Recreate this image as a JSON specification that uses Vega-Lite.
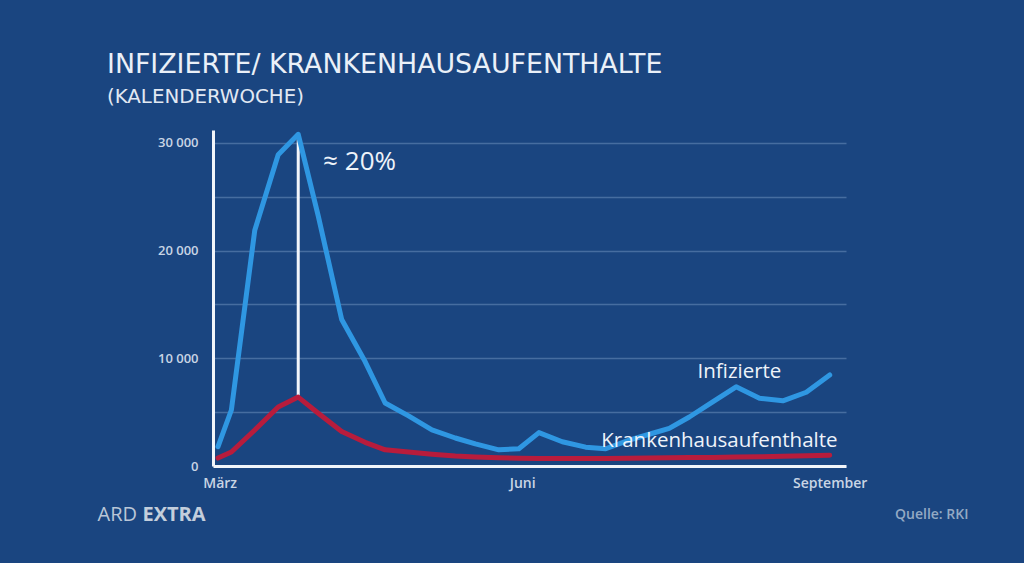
{
  "$schema": "https://vega.github.io/schema/vega-lite/v6.json",
  "autosize": {"type": "none"},
  "width": 633,
  "height": 336,
  "padding": {"left": 213, "top": 130, "right": 178, "bottom": 97},
  "background": "#1a4580",
  "title": {
    "text": "INFIZIERTE/ KRANKENHAUSAUFENTHALTE",
    "subtitle": "(KALENDERWOCHE)",
    "anchor": "start",
    "frame": "group",
    "dx": -106,
    "offset": 23,
    "font": "DejaVu Sans",
    "fontSize": 26.8,
    "fontWeight": "normal",
    "color": "#eaf0f8",
    "subtitleFont": "DejaVu Sans",
    "subtitleFontSize": 19.8,
    "subtitleColor": "#e2e9f3",
    "subtitlePadding": 8
  },
  "data": {
    "values": [
      {"woche": "2020-03-02", "Infizierte": 1800, "Krankenhausaufenthalte": 740},
      {"woche": "2020-03-06", "Infizierte": 5200, "Krankenhausaufenthalte": 1300},
      {"woche": "2020-03-13", "Infizierte": 21900, "Krankenhausaufenthalte": 3340},
      {"woche": "2020-03-20", "Infizierte": 28900, "Krankenhausaufenthalte": 5480},
      {"woche": "2020-03-26", "Infizierte": 30800, "Krankenhausaufenthalte": 6400},
      {"woche": "2020-04-01", "Infizierte": 23200, "Krankenhausaufenthalte": 4900},
      {"woche": "2020-04-08", "Infizierte": 13600, "Krankenhausaufenthalte": 3200},
      {"woche": "2020-04-15", "Infizierte": 9700, "Krankenhausaufenthalte": 2200},
      {"woche": "2020-04-21", "Infizierte": 5850, "Krankenhausaufenthalte": 1500},
      {"woche": "2020-04-28", "Infizierte": 4650, "Krankenhausaufenthalte": 1300},
      {"woche": "2020-05-05", "Infizierte": 3350, "Krankenhausaufenthalte": 1100},
      {"woche": "2020-05-12", "Infizierte": 2600, "Krankenhausaufenthalte": 930},
      {"woche": "2020-05-18", "Infizierte": 2050, "Krankenhausaufenthalte": 840},
      {"woche": "2020-05-25", "Infizierte": 1500, "Krankenhausaufenthalte": 760},
      {"woche": "2020-05-31", "Infizierte": 1600, "Krankenhausaufenthalte": 720},
      {"woche": "2020-06-06", "Infizierte": 3100, "Krankenhausaufenthalte": 700},
      {"woche": "2020-06-13", "Infizierte": 2250, "Krankenhausaufenthalte": 690},
      {"woche": "2020-06-20", "Infizierte": 1750, "Krankenhausaufenthalte": 690},
      {"woche": "2020-06-26", "Infizierte": 1600, "Krankenhausaufenthalte": 700},
      {"woche": "2020-07-03", "Infizierte": 2400, "Krankenhausaufenthalte": 720},
      {"woche": "2020-07-09", "Infizierte": 2950, "Krankenhausaufenthalte": 740},
      {"woche": "2020-07-15", "Infizierte": 3500, "Krankenhausaufenthalte": 760},
      {"woche": "2020-07-21", "Infizierte": 4550, "Krankenhausaufenthalte": 780},
      {"woche": "2020-07-28", "Infizierte": 5950, "Krankenhausaufenthalte": 800},
      {"woche": "2020-08-04", "Infizierte": 7350, "Krankenhausaufenthalte": 830},
      {"woche": "2020-08-11", "Infizierte": 6300, "Krankenhausaufenthalte": 860},
      {"woche": "2020-08-18", "Infizierte": 6050, "Krankenhausaufenthalte": 900},
      {"woche": "2020-08-25", "Infizierte": 6850, "Krankenhausaufenthalte": 950},
      {"woche": "2020-09-01", "Infizierte": 8450, "Krankenhausaufenthalte": 1000}
    ]
  },
  "encoding": {
    "x": {
      "field": "woche",
      "type": "temporal",
      "scale": {
        "type": "utc",
        "domain": [
          {"year": 2020, "month": 2, "date": 29, "hours": 12, "utc": true},
          {"year": 2020, "month": 9, "date": 5, "hours": 21, "utc": true}
        ]
      },
      "axis": {
        "title": "Quelle: RKI",
        "titleFont": "Open Sans",
        "titleFontSize": 14,
        "titleFontWeight": 600,
        "titleColor": "#93a9c4",
        "titleAnchor": "start",
        "titleAlign": "right",
        "titleBaseline": "middle",
        "titleX": 755,
        "titleY": 48,
        "values": [
          {"year": 2020, "month": 3, "date": 2, "hours": 12, "utc": true},
          {"year": 2020, "month": 6, "date": 1, "utc": true},
          {"year": 2020, "month": 9, "date": 1, "utc": true}
        ],
        "labelExpr": "utcmonth(datum.value) == 2 ? 'März' : utcmonth(datum.value) == 5 ? 'Juni' : 'September'",
        "labelFont": "Open Sans",
        "labelFontSize": 14,
        "labelFontWeight": 600,
        "labelColor": "#c9d5e5",
        "labelPadding": 10,
        "labelFlush": false,
        "ticks": false,
        "grid": false,
        "domainColor": "#f2f5fa",
        "domainWidth": 3
      }
    }
  },
  "layer": [
    {
      "transform": [
        {"joinaggregate": [{"op": "max", "field": "Infizierte", "as": "spitze"}]},
        {"filter": "datum.Infizierte == datum.spitze"}
      ],
      "mark": {"type": "rule", "color": "#f2f5fa", "strokeWidth": 3},
      "encoding": {
        "y": {"field": "Infizierte", "type": "quantitative", "axis": null},
        "y2": {"field": "Krankenhausaufenthalte"}
      }
    },
    {
      "mark": {"type": "line", "color": "#2f97e2", "strokeWidth": 5, "strokeJoin": "round", "strokeCap": "round"},
      "encoding": {
        "y": {
          "field": "Infizierte",
          "type": "quantitative",
          "scale": {"domain": [0, 31200], "nice": false},
          "axis": {
            "orient": "left",
            "title": "ARD",
            "titleFont": "Open Sans",
            "titleFontSize": 20,
            "titleFontWeight": 500,
            "titleColor": "#b9c6d7",
            "titleAngle": 0,
            "titleAlign": "left",
            "titleBaseline": "middle",
            "titleX": -116,
            "titleY": 384,
            "values": [0, 5000, 10000, 15000, 20000, 25000, 30000],
            "labelExpr": "datum.value % 10000 == 0 ? replace(format(datum.value, ',d'), ',', ' ') : ''",
            "labelFont": "Open Sans",
            "labelFontSize": 13,
            "labelFontWeight": 600,
            "labelColor": "#c9d5e5",
            "labelPadding": 15,
            "ticks": false,
            "grid": true,
            "gridColor": "#7d9dc8",
            "gridOpacity": 0.45,
            "gridWidth": 1.5,
            "domainColor": "#f2f5fa",
            "domainWidth": 3
          }
        }
      }
    },
    {
      "mark": {"type": "line", "color": "#b81c3c", "strokeWidth": 5, "strokeJoin": "round", "strokeCap": "round"},
      "encoding": {
        "y": {"field": "Krankenhausaufenthalte", "type": "quantitative", "axis": null}
      }
    },
    {
      "transform": [
        {"joinaggregate": [{"op": "max", "field": "Infizierte", "as": "spitze"}]},
        {"filter": "datum.Infizierte == datum.spitze"}
      ],
      "mark": {"type": "text", "text": "≈ 20%", "align": "left", "baseline": "middle", "dx": 25, "dy": 28, "font": "Open Sans", "fontSize": 26, "color": "#eef3fa"},
      "encoding": {
        "y": {"field": "Infizierte", "type": "quantitative", "axis": null}
      }
    },
    {
      "data": {
        "values": [
          {"woche": "2020-08-05", "wert": 8730, "label": "Infizierte"},
          {"woche": "2020-07-30", "wert": 2320, "label": "Krankenhausaufenthalte"}
        ]
      },
      "mark": {"type": "text", "align": "center", "baseline": "middle", "font": "Open Sans", "fontSize": 20.5, "color": "#eef3fa"},
      "encoding": {
        "text": {"field": "label"},
        "y": {
          "field": "wert",
          "type": "quantitative",
          "axis": {
            "orient": "right",
            "title": "EXTRA",
            "titleFont": "Open Sans",
            "titleFontSize": 20,
            "titleFontWeight": "bold",
            "titleColor": "#c3cedc",
            "titleAngle": 0,
            "titleAlign": "left",
            "titleBaseline": "middle",
            "titleX": -704,
            "titleY": 384,
            "labels": false,
            "ticks": false,
            "grid": false,
            "domain": false
          }
        }
      }
    }
  ],
  "resolve": {"axis": {"y": "independent"}},
  "config": {"view": {"stroke": null}}
}
